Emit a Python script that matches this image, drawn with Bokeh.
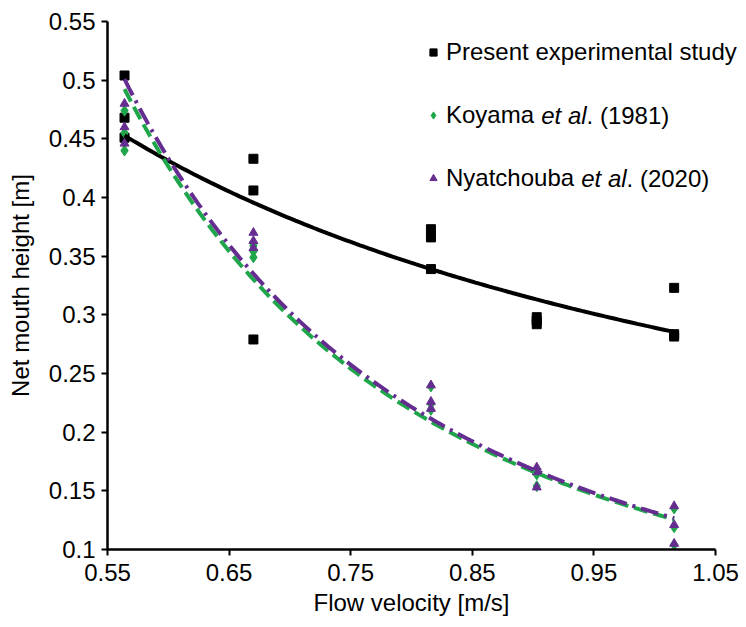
import numpy as np
from bokeh.plotting import figure
from bokeh.models import (Range1d, FixedTicker, CustomJSTickFormatter, Legend,
                          LegendItem, Label, ColumnDataSource, Title)
from bokeh.core.properties import value
from bokeh.embed import file_html
from bokeh.resources import INLINE

# ---------------- data ----------------
velocity = [0.564, 0.670, 0.816, 0.903, 1.016]

present_height = [0.504, 0.468, 0.451,
                  0.433, 0.406, 0.279,
                  0.373, 0.366, 0.339,
                  0.298, 0.295, 0.292,
                  0.323, 0.2835, 0.2815]
koyama_height = [0.474, 0.455, 0.440,
                 0.359, 0.354, 0.349,
                 0.239, 0.224, 0.219,
                 0.168, 0.164, 0.154,
                 0.135, 0.119, 0.104]
nyatchouba_height = [0.480, 0.460, 0.446,
                     0.370, 0.363, 0.357,
                     0.240, 0.226, 0.220,
                     0.170, 0.166, 0.153,
                     0.137, 0.121, 0.105]

series_names = ["Present experimental study", "Koyama", "Nyatchouba"]
series_refs = [None, ". (1981)", ". (2020)"]

x_ticks = [0.55, 0.65, 0.75, 0.85, 0.95, 1.05]
y_ticks = [0.1, 0.15, 0.2, 0.25, 0.3, 0.35, 0.4, 0.45, 0.5, 0.55]

x_label = "Flow velocity [m/s]"
y_label = "Net mouth height [m]"

# ---------------- styling / layout ----------------
GREEN = "#1FA64B"
PURPLE = "#662D91"
FONT = "Liberation Sans"
FS = "24px"

W, H = 746, 627
LEFT, TOP, BOTTOM = 107, 21, 78
AXIS_PX = 608                       # pixel length of the 0.55..1.05 x axis
FW, FH = W - LEFT, H - TOP - BOTTOM  # frame runs to the right edge so legend text is not clipped
X0, XA1, Y0, Y1 = 0.55, 1.05, 0.1, 0.55
X1 = X0 + FW / AXIS_PX * (XA1 - X0)


def sx_to_x(sx):
    return X0 + (sx - LEFT) / AXIS_PX * (XA1 - X0)


def sy_to_y(sy):
    return Y1 - (sy - TOP) / FH * (Y1 - Y0)


xs = np.repeat(velocity, 3)


def power_fit(x, y):
    # power-law trendline (least squares in log-log space, as a spreadsheet does)
    b, ln_a = np.polyfit(np.log(x), np.log(y), 1)
    grid = np.linspace(min(x), max(x), 120)
    return grid, np.exp(ln_a) * grid ** b


p = figure(width=W, height=H, output_backend="svg", toolbar_location=None,
           x_range=Range1d(X0, X1), y_range=Range1d(Y0, Y1),
           min_border_left=LEFT, min_border_right=0,
           min_border_top=TOP, min_border_bottom=BOTTOM)
p.outline_line_color = None
p.xgrid.visible = False
p.ygrid.visible = False
p.background_fill_color = "white"
p.border_fill_color = "white"

fmt = CustomJSTickFormatter(code="return (Math.round(tick*100)/100).toString();")
for ax, ticks in ((p.xaxis, x_ticks), (p.yaxis, y_ticks)):
    ax.ticker = FixedTicker(ticks=ticks)
    ax.formatter = fmt
    ax.axis_line_width = 2.5
    ax.axis_line_color = "black"
    ax.major_tick_line_width = 2
    ax.major_tick_line_color = "black"
    ax.major_tick_in = 0
    ax.major_tick_out = 6
    ax.minor_tick_line_color = None
    ax.major_label_text_font = FONT
    ax.major_label_text_font_size = FS
    ax.major_label_text_color = "black"
    ax.axis_label_text_font = FONT
    ax.axis_label_text_font_size = FS
    ax.axis_label_text_font_style = "normal"
    ax.axis_label_text_color = "black"

p.xaxis.bounds = (X0, XA1)
p.yaxis.axis_label = y_label
p.xaxis.major_label_standoff = 8
p.yaxis.major_label_standoff = 6
p.yaxis.axis_label_standoff = 12

# x axis title, centred under the 0.55..1.05 axis (not under the wider frame)
XLABEL_W = 196
p.add_layout(Title(text=x_label, align="left", offset=AXIS_PX / 2 - XLABEL_W / 2,
                   text_font=FONT, text_font_size=FS, text_font_style="normal",
                   text_color="black", standoff=7), "below")

src = ColumnDataSource(dict(x=xs, present=present_height,
                            koyama=koyama_height, nyat=nyatchouba_height))

r_present = p.scatter("x", "present", source=src, marker="square", size=9,
                      fill_color="black", line_color="black")
r_koyama = p.scatter("x", "koyama", source=src, marker="diamond", size=11,
                     fill_color=GREEN, line_color=GREEN)
r_nyat = p.scatter("x", "nyat", source=src, marker="triangle", size=9,
                   fill_color=PURPLE, line_color=PURPLE)

gx, gy = power_fit(xs, present_height)
p.line(gx, gy, line_color="black", line_width=4)
gx, gy = power_fit(xs, koyama_height)
p.line(gx, gy, line_color=GREEN, line_width=4, line_dash="14 6")
gx, gy = power_fit(xs, nyatchouba_height)
p.line(gx, gy, line_color=PURPLE, line_width=4, line_dash="18 6 3 6")

# legend: symbols + upright part of each label; italic "et al" added as labels
legend = Legend(items=[LegendItem(label=value(series_names[0]), renderers=[r_present]),
                       LegendItem(label=value(series_names[1]), renderers=[r_koyama]),
                       LegendItem(label=value(series_names[2]), renderers=[r_nyat])],
                location=(317, 356), orientation="vertical",
                glyph_width=18, glyph_height=30, label_height=30,
                label_text_font=FONT, label_text_font_size=FS,
                label_text_color="black", label_standoff=4,
                spacing=33, padding=0, margin=0,
                border_line_color=None, background_fill_alpha=0)
p.add_layout(legend)

TX = 446
row_y = [None, 115, 178]
name_w = [None, 94.7, 134.7]   # width of "Koyama " / "Nyatchouba " at 24px
ETAL_W = 45.4                  # width of italic "et al" at 24px
for i in (1, 2):
    sy = row_y[i]
    p.add_layout(Label(x=sx_to_x(TX + name_w[i]), y=sy_to_y(sy), text="et al",
                       text_font=FONT, text_font_size=FS, text_font_style="italic",
                       text_color="black", text_baseline="middle", text_align="left"))
    p.add_layout(Label(x=sx_to_x(TX + name_w[i] + ETAL_W), y=sy_to_y(sy),
                       text=series_refs[i],
                       text_font=FONT, text_font_size=FS, text_font_style="normal",
                       text_color="black", text_baseline="middle", text_align="left"))

open("out.html", "w").write(file_html(p, INLINE))
